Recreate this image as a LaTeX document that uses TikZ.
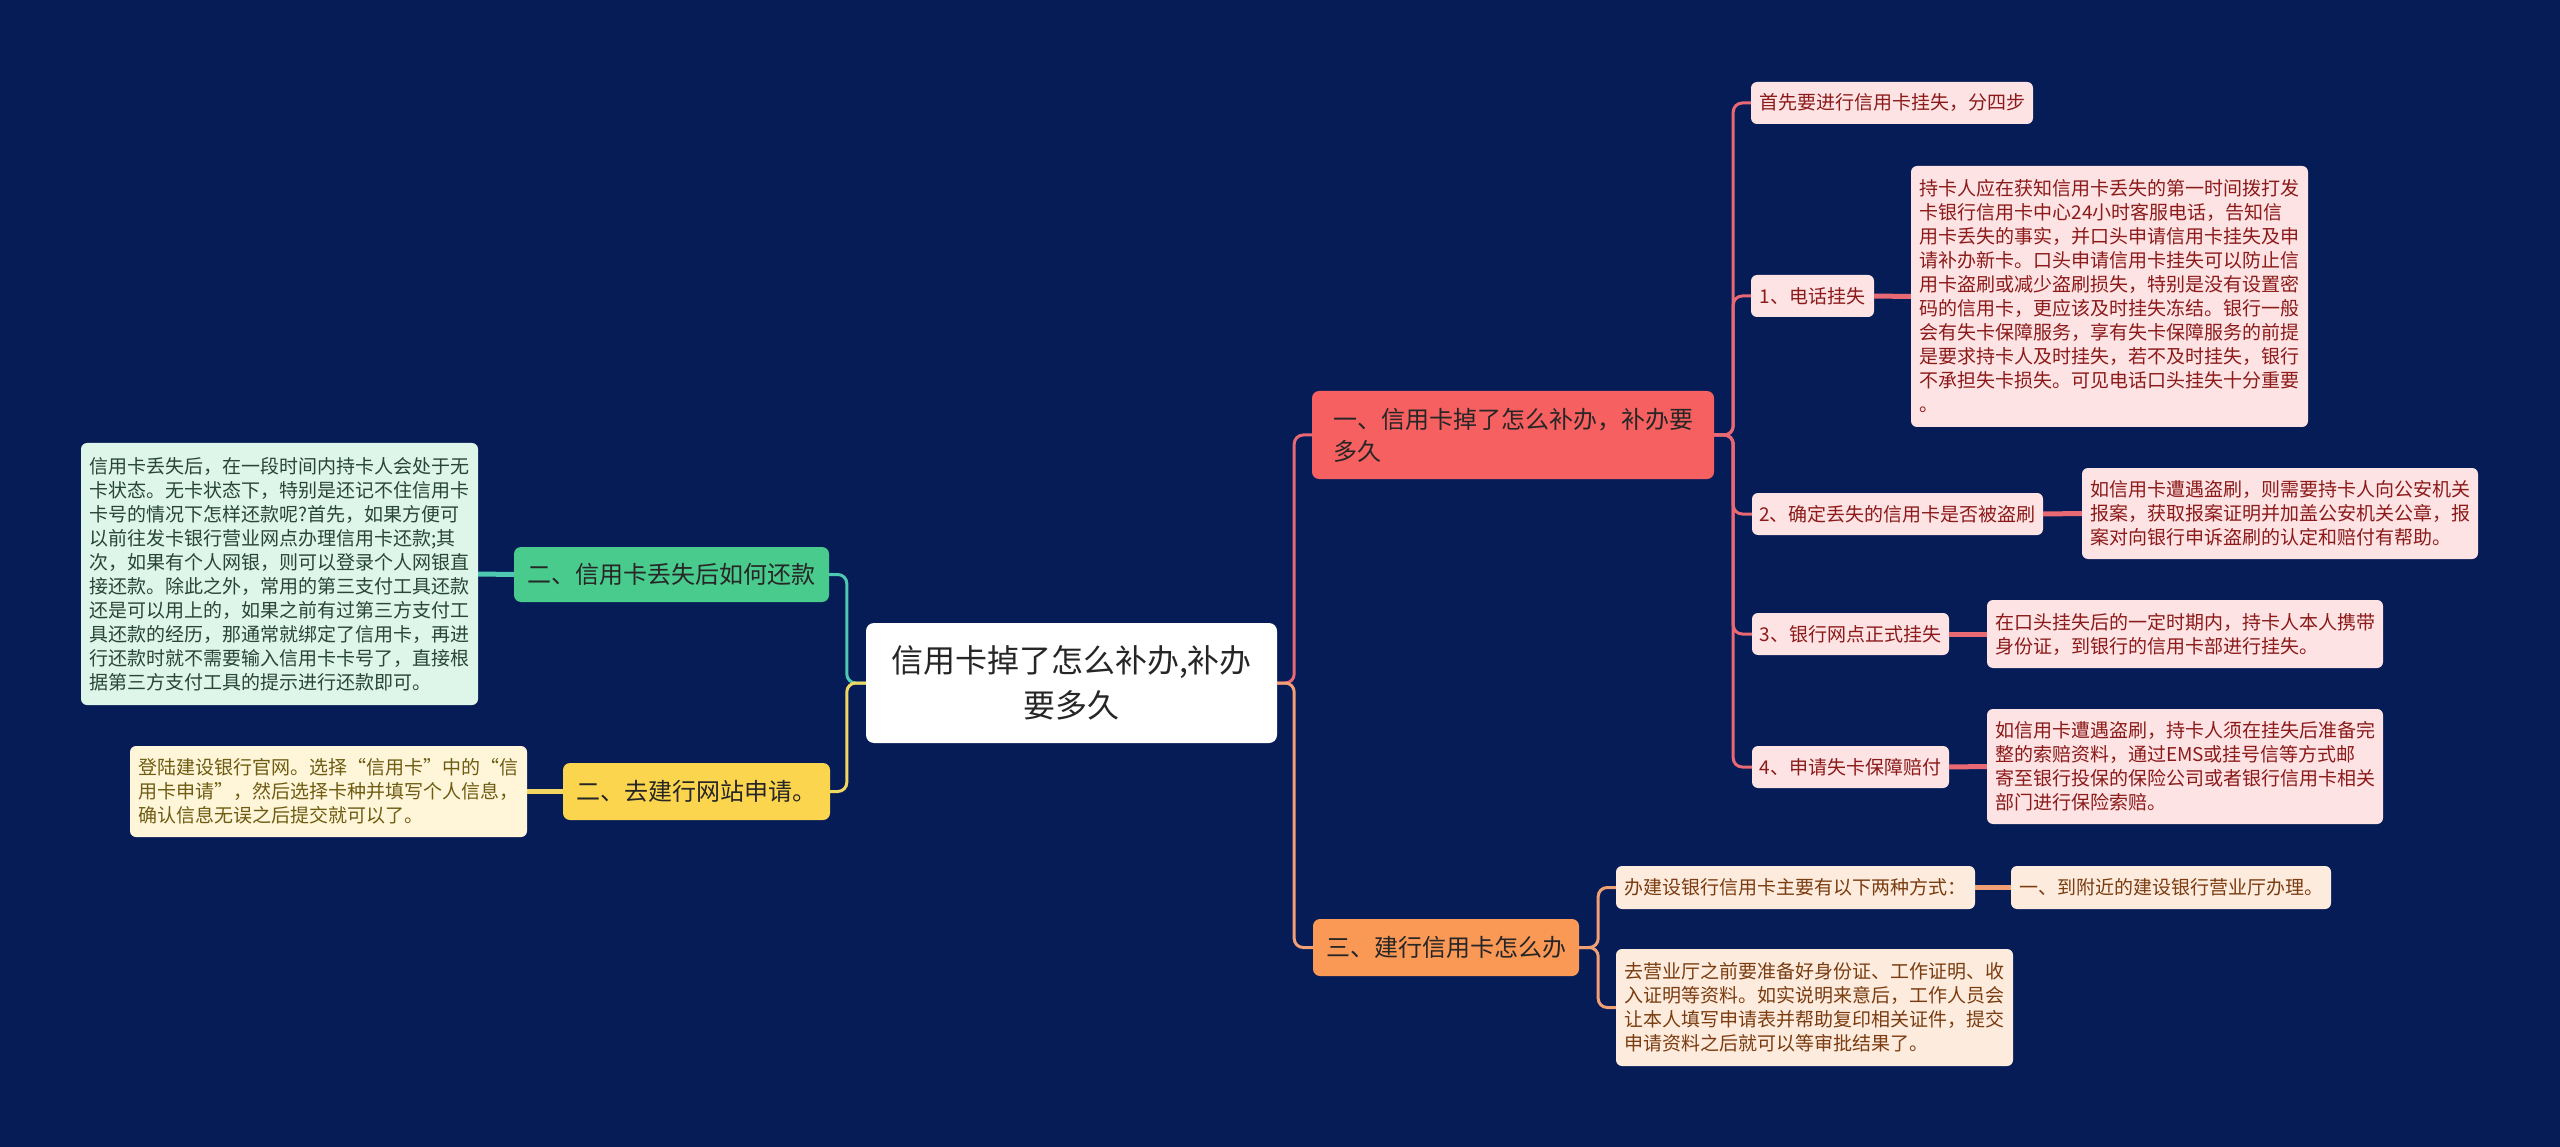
\documentclass[tikz,border=0pt]{standalone}
\usepackage{fontspec}
\newfontfamily\cjk{Noto Sans CJK SC}
\usepackage{tikz}
\usetikzlibrary{positioning}
\definecolor{cBg}{RGB}{6,28,86}
\definecolor{cRed}{RGB}{247,96,96}
\definecolor{cRedLine}{RGB}{232,104,116}
\definecolor{cRedLeaf}{RGB}{253,227,227}
\definecolor{cRedText}{RGB}{140,26,26}
\definecolor{cOrange}{RGB}{250,152,86}
\definecolor{cOrangeLine}{RGB}{240,160,116}
\definecolor{cOrangeLeaf}{RGB}{253,236,222}
\definecolor{cOrangeText}{RGB}{122,60,16}
\definecolor{cGreen}{RGB}{74,203,142}
\definecolor{cGreenLine}{RGB}{78,200,176}
\definecolor{cGreenLeaf}{RGB}{222,245,234}
\definecolor{cGreenText}{RGB}{40,70,55}
\definecolor{cYellow}{RGB}{252,213,78}
\definecolor{cYellowLine}{RGB}{242,214,98}
\definecolor{cYellowLeaf}{RGB}{255,246,218}
\definecolor{cYellowText}{RGB}{110,92,18}
\tikzset{
	rootbox/.style={rectangle, rounded corners=8pt, fill=white, text=black!85, align=center, inner sep=0pt, font=\cjk\fontsize{32}{45}\selectfont},
	topic/.style  ={rectangle, rounded corners=7pt, align=left, inner sep=0pt, text=black!85, font=\cjk\fontsize{24}{32}\selectfont},
	sub/.style    ={rectangle, rounded corners=6pt, align=left, inner sep=0pt, font=\cjk\fontsize{19}{24}\selectfont},
	sz/.style 2 args={minimum width=#1pt, minimum height=#2pt},
	% connector styles
	lnk/.style    ={line width=3pt, rounded corners=9pt},
	leaflnk/.style={line width=5pt},
}
\begin{document}
\begin{tikzpicture}[x=1pt, y=-1pt]
	\fill[cBg] (0,0) rectangle (2560,1147);
	% root
	\node[rootbox, sz={411}{120}] (root) at (1071.5,683) {信用卡掉了怎么补办,补办\\要多久};
	% branch one
	\node[topic, fill=cRed, sz={402}{88}] (A) at (1513,435) {一、信用卡掉了怎么补办，补办要\\多久};
	\node[sub, fill=cRedLeaf, text=cRedText, sz={282}{42}] (A0) at (1892,103) {首先要进行信用卡挂失，分四步};
	\node[sub, fill=cRedLeaf, text=cRedText, sz={123}{42}] (A1) at (1812.5,296) {1、电话挂失};
	\node[sub, fill=cRedLeaf, text=cRedText, sz={291}{42}] (A2) at (1897.5,514) {2、确定丢失的信用卡是否被盗刷};
	\node[sub, fill=cRedLeaf, text=cRedText, sz={197}{42}] (A3) at (1850.5,634) {3、银行网点正式挂失};
	\node[sub, fill=cRedLeaf, text=cRedText, sz={197}{42}] (A4) at (1850.5,767) {4、申请失卡保障赔付};
	\node[sub, fill=cRedLeaf, text=cRedText, sz={397}{261}] (A1t) at (2109.5,296.5) {持卡人应在获知信用卡丢失的第一时间拨打发\\卡银行信用卡中心24小时客服电话，告知信\\用卡丢失的事实，并口头申请信用卡挂失及申\\请补办新卡。口头申请信用卡挂失可以防止信\\用卡盗刷或减少盗刷损失，特别是没有设置密\\码的信用卡，更应该及时挂失冻结。银行一般\\会有失卡保障服务，享有失卡保障服务的前提\\是要求持卡人及时挂失，若不及时挂失，银行\\不承担失卡损失。可见电话口头挂失十分重要\\。};
	\node[sub, fill=cRedLeaf, text=cRedText, sz={396}{91}] (A2t) at (2280,513.5) {如信用卡遭遇盗刷，则需要持卡人向公安机关\\报案，获取报案证明并加盖公安机关公章，报\\案对向银行申诉盗刷的认定和赔付有帮助。};
	\node[sub, fill=cRedLeaf, text=cRedText, sz={396}{68}] (A3t) at (2185,634) {在口头挂失后的一定时期内，持卡人本人携带\\身份证，到银行的信用卡部进行挂失。};
	\node[sub, fill=cRedLeaf, text=cRedText, sz={396}{115}] (A4t) at (2185,766.5) {如信用卡遭遇盗刷，持卡人须在挂失后准备完\\整的索赔资料，通过EMS或挂号信等方式邮\\寄至银行投保的保险公司或者银行信用卡相关\\部门进行保险索赔。};
	% branch three
	\node[topic, fill=cOrange, sz={266}{57}] (C) at (1446,947.5) {三、建行信用卡怎么办};
	\node[sub, fill=cOrangeLeaf, text=cOrangeText, sz={359}{43}] (C1) at (1795.5,887.5) {办建设银行信用卡主要有以下两种方式：};
	\node[sub, fill=cOrangeLeaf, text=cOrangeText, sz={320}{43}] (C1a) at (2171,887.5) {一、到附近的建设银行营业厅办理。};
	\node[sub, fill=cOrangeLeaf, text=cOrangeText, sz={397}{117}] (C2) at (1814.5,1007.5) {去营业厅之前要准备好身份证、工作证明、收\\入证明等资料。如实说明来意后，工作人员会\\让本人填写申请表并帮助复印相关证件，提交\\申请资料之后就可以等审批结果了。};
	% left branches
	\node[topic, fill=cGreen, sz={315}{55}] (B) at (671.5,574.5) {二、信用卡丢失后如何还款};
	\node[sub, fill=cGreenLeaf, text=cGreenText, sz={397}{262}] (Bt) at (279.5,574) {信用卡丢失后，在一段时间内持卡人会处于无\\卡状态。无卡状态下，特别是还记不住信用卡\\卡号的情况下怎样还款呢?首先，如果方便可\\以前往发卡银行营业网点办理信用卡还款;其\\次，如果有个人网银，则可以登录个人网银直\\接还款。除此之外，常用的第三支付工具还款\\还是可以用上的，如果之前有过第三方支付工\\具还款的经历，那通常就绑定了信用卡，再进\\行还款时就不需要输入信用卡卡号了，直接根\\据第三方支付工具的提示进行还款即可。};
	\node[topic, fill=cYellow, sz={267}{57}] (D) at (696.5,791.5) {二、去建行网站申请。};
	\node[sub, fill=cYellowLeaf, text=cYellowText, sz={397}{91}] (Dt) at (328.5,791.5) {登陆建设银行官网。选择“信用卡”中的“信\\用卡申请”，然后选择卡种并填写个人信息，\\确认信息无误之后提交就可以了。};
	% connectors
	\draw[lnk, cRedLine] (root.east) -- ++(17,0) |- (A.west);
	\draw[lnk, cOrangeLine] (root.east) -- ++(17,0) |- (C.west);
	\draw[lnk, cGreenLine] (root.west) -- ++(-19,0) |- (B.east);
	\draw[lnk, cYellowLine] (root.west) -- ++(-19,0) |- (D.east);
	\foreach \k in {A0,A1,A2,A3,A4}
		\draw[lnk, cRedLine] (A.east) -- ++(19,0) |- (\k.west);
	\foreach \a/\b in {A1/A1t, A2/A2t, A3/A3t, A4/A4t}
		\draw[leaflnk, cRedLine] (\a.east) -- (\b.west);
	\foreach \k in {C1,C2}
		\draw[lnk, cOrangeLine] (C.east) -- ++(19,0) |- (\k.west);
	\draw[leaflnk, cOrangeLine] (C1.east) -- (C1a.west);
	\draw[leaflnk, cGreenLine] (B.west) -- (Bt.east);
	\draw[leaflnk, cYellowLine] (D.west) -- (Dt.east);
\end{tikzpicture}
\end{document}
